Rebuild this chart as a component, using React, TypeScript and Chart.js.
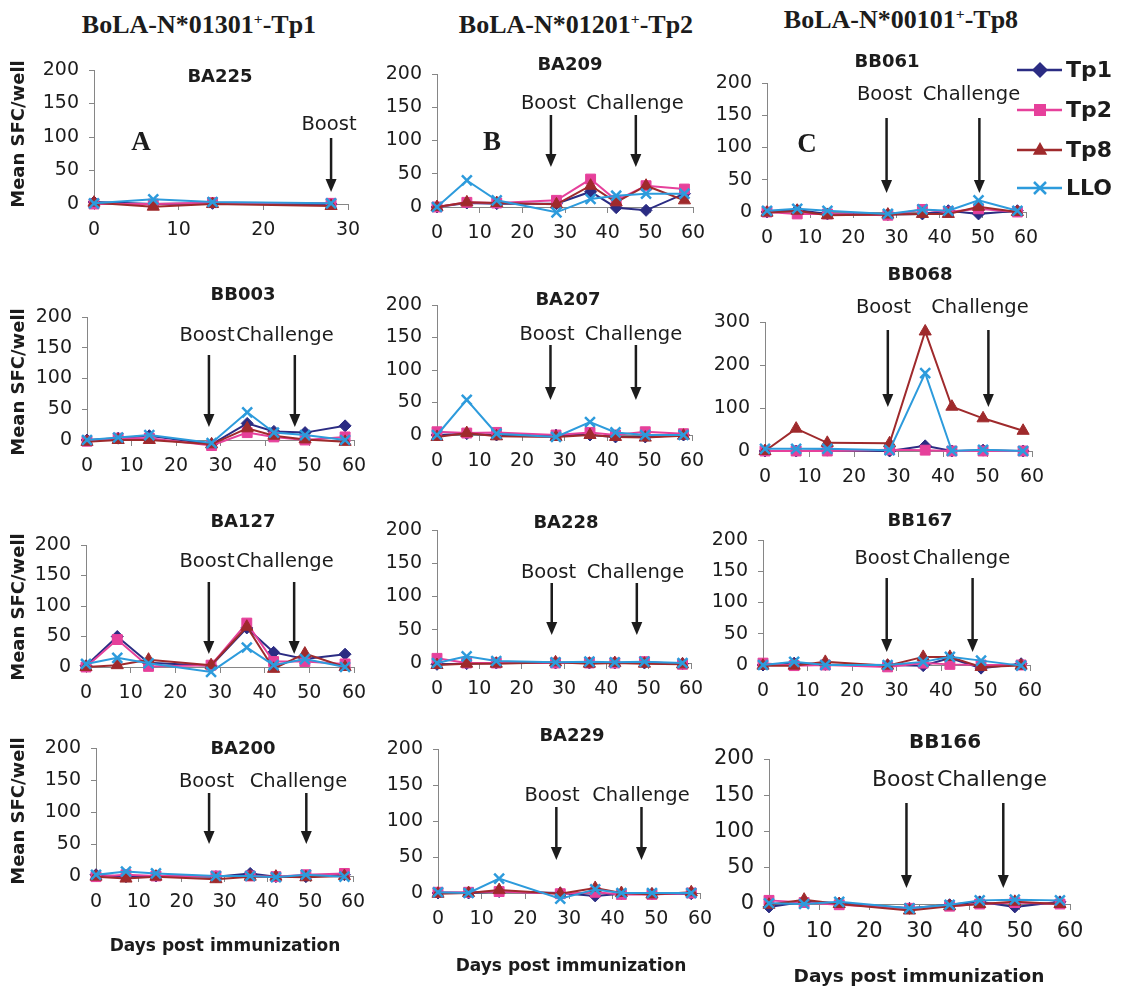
import React, { useEffect, useRef } from 'react';
import { Chart, registerables } from 'chart.js';

Chart.register(...registerables);

// ---------- DATA ----------
const DAYS = [0, 7, 14, 28, 36, 42, 49, 58];
const DAYS_BA225 = [0, 7, 14, 28];
const SERIES = ['Tp1', 'Tp2', 'Tp8', 'LLO'];

const BA225 = { Tp1: [3, 0, 1, 0], Tp2: [0, 0, 2, 1], Tp8: [2, -4, 0, -3], LLO: [1, 7, 3, 1] };
const BA209 = { Tp1: [0, 6, 5, 5, 23, -1, -5, 20], Tp2: [0, 7, 6, 10, 42, 10, 32, 27], Tp8: [0, 7, 6, 4, 32, 7, 32, 10], LLO: [0, 40, 10, -8, 12, 17, 20, 20] };
const BB061 = { Tp1: [0, 3, -3, -4, -3, 2, -3, 2], Tp2: [0, -3, -3, -5, 4, 0, 5, 0], Tp8: [-1, 2, -5, -4, -3, -3, 8, 0], LLO: [2, 5, 2, -3, 4, 2, 18, 2] };
const BB003 = { Tp1: [0, 3, 7, -7, 27, 14, 12, 23], Tp2: [-2, 3, 3, -9, 12, 5, 0, 5], Tp8: [-3, 0, 0, -7, 19, 7, 1, -3], LLO: [0, 4, 8, -5, 45, 12, 8, 0] };
const BA207 = { Tp1: [0, 2, 0, 0, 0, -3, -3, 0], Tp2: [5, 3, 4, 0, 4, 0, 5, 2], Tp8: [-3, 3, -2, -3, 0, -3, -4, -1], LLO: [0, 54, 2, -3, 20, 4, 0, 0] };
const BB068 = { Tp1: [0, 0, 2, 0, 12, 0, 2, 0], Tp2: [0, 0, 0, 3, 2, 0, 0, 0], Tp8: [0, 52, 19, 18, 278, 103, 76, 47], LLO: [5, 5, 5, 2, 181, 0, 3, 0] };
const BA127 = { Tp1: [2, 50, 7, 2, 64, 24, 13, 21], Tp2: [0, 45, 1, 3, 72, 9, 9, 5], Tp8: [0, 3, 12, 3, 66, -3, 22, 0], LLO: [5, 15, 6, -8, 32, 3, 13, 0] };
const BA228 = { Tp1: [-2, -1, 0, 0, 0, 0, 0, -1], Tp2: [7, 0, 0, 0, 0, 0, 2, -2], Tp8: [-3, -1, -1, 1, -1, 0, -1, -2], LLO: [0, 10, 3, 1, 2, 1, 2, 0] };
const BB167 = { Tp1: [0, 3, 1, 0, -1, 11, -5, 2], Tp2: [3, -1, 0, -3, 3, 1, 0, 0], Tp8: [-1, -1, 5, -1, 13, 13, -3, -1], LLO: [0, 5, 0, 0, 5, 13, 7, -1] };
const BA200 = { Tp1: [2, -1, 0, -1, 4, -1, -1, 2], Tp2: [-1, 2, 0, 0, 0, -1, 2, 4], Tp8: [-1, -4, -1, -5, -1, -1, -2, 0], LLO: [2, 7, 4, 0, 0, -2, 2, -1] };
const BA229 = { Tp1: [0, 0, 2, 0, -4, -1, -1, -1], Tp2: [1, 1, 2, -1, 1, -2, -2, 0], Tp8: [-1, 0, 4, -1, 7, 0, -2, 1], LLO: [1, 0, 20, -8, 5, 0, 0, 0] };
const BB166 = { Tp1: [-4, 3, 1, -6, -1, 3, -4, 3], Tp2: [5, 2, -1, -6, -3, 0, 2, 0], Tp8: [-1, 6, 0, -9, -3, 0, 3, 0], LLO: [1, 0, 3, -6, -1, 5, 6, 5] };

const PANEL_NAMES = ['BA225', 'BA209', 'BB061', 'BB003', 'BA207', 'BB068', 'BA127', 'BA228', 'BB167', 'BA200', 'BA229', 'BB166'];
const PANEL_DATA = [BA225, BA209, BB061, BB003, BA207, BB068, BA127, BA228, BB167, BA200, BA229, BB166];
const X_MAX = [30, 60, 60, 60, 60, 60, 60, 60, 60, 60, 60, 60];
const Y_MAX = [200, 200, 200, 200, 200, 300, 200, 200, 200, 200, 200, 200];
const BOOST_DAY = [28, 26.7, 27.7, 27.4, 26.7, 27.6, 27.5, 27.1, 27.8, 26.4, 27.1, 27.4];
const CHALLENGE_DAY = [null, 46.6, 49.2, 46.7, 46.8, 50.2, 46.6, 47.2, 47.1, 49.1, 46.6, 46.7];

const COLUMN_TITLES = [
  ['BoLA-N*01301', '-Tp1'],
  ['BoLA-N*01201', '-Tp2'],
  ['BoLA-N*00101', '-Tp8'],
];
const Y_TITLE = 'Mean SFC/well';
const X_TITLE = 'Days post immunization';

// ---------- LAYOUT / STYLE ----------
const W = 1129;
const H = 990;
const YW = 60;
const XH = 40;
const TEXT = '#1c1c1c';
const AXIS = '#868686';
const SANS = '"DejaVu Sans", sans-serif';
const SERIF = '"Liberation Serif", "Times New Roman", serif';

const STYLE: Record<string, { color: string; point: string; radius: number; bw: number }> = {
  Tp1: { color: '#2b2c83', point: 'rectRot', radius: 6, bw: 1 },
  Tp2: { color: '#e6409b', point: 'rect', radius: 7, bw: 1 },
  Tp8: { color: '#9f2a2c', point: 'triangle', radius: 7, bw: 1 },
  LLO: { color: '#2d9bdc', point: 'crossRot', radius: 7, bw: 2.5 },
};

// [left, top, right, bottom] of plot areas
const RECTS = [
  [94, 70, 348, 204], [437, 74, 693, 207], [767, 83, 1026, 212],
  [87, 317, 354, 440], [437, 305, 692, 435], [765, 322, 1032, 451],
  [86, 545, 354, 667], [437, 530, 691, 663], [763, 540, 1030, 665],
  [96, 748, 353, 876], [438, 749, 700, 893], [769, 759, 1070, 904],
];
const TITLE_POS = [
  [220, 77], [570, 65], [887, 62], [243, 295], [568, 300], [920, 275],
  [243, 522], [566, 523], [920, 521], [243, 749], [572, 736], [945, 743],
];
// [boostX, challengeX, y]
const WORD_POS = [
  [329, null, 125], [548.5, 635, 104], [884.5, 971.5, 95],
  [207, 285, 336], [547, 633.5, 335], [883.5, 980, 308],
  [207, 285, 562], [548.5, 635.5, 573], [882, 961.5, 559],
  [206.5, 298.5, 782], [552, 641, 796], [903, 992, 780],
];
const ARROW_Y = [
  [138, 192], [115, 167], [118, 193], [355, 427], [345, 400], [330, 407],
  [582, 654], [583, 635], [578, 652], [793, 844], [807, 860], [803, 888],
];
const Y_TITLE_Y: Record<number, number> = { 0: 134, 3: 382, 6: 607, 9: 811 };
const X_TITLE_POS: Record<number, number[]> = { 9: [225, 947, 17], 10: [571, 967, 17], 11: [919, 977, 18.5] };
const LETTERS: Record<number, [string, number, number]> = { 0: ['A', 141, 143], 1: ['B', 492, 143], 2: ['C', 807, 145] };
const LEGEND_Y = [70, 110, 150, 188];

function drawMarker(ctx: CanvasRenderingContext2D, style: string, x: number, y: number, r: number, color: string) {
  ctx.save();
  ctx.fillStyle = color;
  ctx.strokeStyle = color;
  ctx.beginPath();
  if (style === 'rectRot') {
    ctx.moveTo(x, y - r); ctx.lineTo(x + r, y); ctx.lineTo(x, y + r); ctx.lineTo(x - r, y); ctx.closePath(); ctx.fill();
  } else if (style === 'rect') {
    const s = r * 0.75;
    ctx.rect(x - s, y - s, 2 * s, 2 * s); ctx.fill();
  } else if (style === 'triangle') {
    ctx.moveTo(x, y - r); ctx.lineTo(x + r * 0.9, y + r * 0.6); ctx.lineTo(x - r * 0.9, y + r * 0.6); ctx.closePath(); ctx.fill();
  } else {
    const s = r * 0.75;
    ctx.lineWidth = 2.5;
    ctx.moveTo(x - s, y - s); ctx.lineTo(x + s, y + s);
    ctx.moveTo(x + s, y - s); ctx.lineTo(x - s, y + s);
    ctx.stroke();
  }
  ctx.restore();
}

function drawArrow(ctx: CanvasRenderingContext2D, x: number, y1: number, y2: number) {
  ctx.save();
  ctx.strokeStyle = TEXT;
  ctx.fillStyle = TEXT;
  ctx.lineWidth = 2.5;
  ctx.beginPath();
  ctx.moveTo(x, y1);
  ctx.lineTo(x, y2 - 10);
  ctx.stroke();
  ctx.beginPath();
  ctx.moveTo(x - 5.5, y2 - 13);
  ctx.lineTo(x + 5.5, y2 - 13);
  ctx.lineTo(x, y2);
  ctx.closePath();
  ctx.fill();
  ctx.restore();
}

function makeConfig(i: number): any {
  const [L, T, R, B] = RECTS[i];
  const big = i === 11;
  const tickFont = { family: SANS, size: big ? 21 : 19 };
  const data = PANEL_DATA[i] as Record<string, number[]>;
  const days = i === 0 ? DAYS_BA225 : DAYS;

  const datasets = SERIES.map((s, k) => ({
    label: s,
    data: days.map((d, j) => ({ x: d, y: data[s][j] })),
    borderColor: STYLE[s].color,
    backgroundColor: STYLE[s].color,
    borderWidth: 2,
    pointStyle: STYLE[s].point,
    pointRadius: STYLE[s].radius,
    pointBorderWidth: STYLE[s].bw,
    pointBackgroundColor: STYLE[s].color,
    pointBorderColor: STYLE[s].color,
    order: 4 - k,
    clip: false,
    tension: 0,
  }));

  const annot = {
    id: 'annot' + i,
    afterDraw(chart: any) {
      const ctx: CanvasRenderingContext2D = chart.ctx;
      const xs = chart.scales.x;
      ctx.save();
      ctx.fillStyle = TEXT;
      ctx.textAlign = 'center';
      ctx.textBaseline = 'middle';
      // panel title
      ctx.font = `bold ${big ? 20 : 18}px ${SANS}`;
      ctx.fillText(PANEL_NAMES[i], TITLE_POS[i][0], TITLE_POS[i][1]);
      // Boost / Challenge
      const [bx, cx, wy] = WORD_POS[i];
      ctx.font = `${big ? 22 : 19.5}px ${SANS}`;
      ctx.fillText('Boost', bx as number, wy as number);
      if (cx !== null) ctx.fillText('Challenge', cx as number, wy as number);
      const [a1, a2] = ARROW_Y[i];
      drawArrow(ctx, xs.getPixelForValue(BOOST_DAY[i]), a1, a2);
      if (CHALLENGE_DAY[i] !== null) drawArrow(ctx, xs.getPixelForValue(CHALLENGE_DAY[i] as number), a1, a2);
      // y title
      if (Y_TITLE_Y[i] !== undefined) {
        ctx.save();
        ctx.translate(19, Y_TITLE_Y[i]);
        ctx.rotate(-Math.PI / 2);
        ctx.font = `bold 18px ${SANS}`;
        ctx.fillText(Y_TITLE, 0, 0);
        ctx.restore();
      }
      // x title
      if (X_TITLE_POS[i]) {
        const [tx, ty, ts] = X_TITLE_POS[i];
        ctx.font = `bold ${ts}px ${SANS}`;
        ctx.fillText(X_TITLE, tx, ty);
      }
      // letter
      if (LETTERS[i]) {
        const [ch, lx, ly] = LETTERS[i];
        ctx.font = `bold 27px ${SERIF}`;
        ctx.fillText(ch, lx, ly);
      }
      // legend
      if (i === 2) {
        SERIES.forEach((s, k) => {
          const y = LEGEND_Y[k];
          ctx.save();
          ctx.strokeStyle = STYLE[s].color;
          ctx.lineWidth = 2.5;
          ctx.beginPath();
          ctx.moveTo(1017, y);
          ctx.lineTo(1062, y);
          ctx.stroke();
          ctx.restore();
          drawMarker(ctx, STYLE[s].point, 1040, y, 8, STYLE[s].color);
          ctx.textAlign = 'left';
          ctx.font = `bold 22px ${SANS}`;
          ctx.fillText(s, 1066, y + 1);
        });
      }
      ctx.restore();
    },
  };

  return {
    type: 'line',
    data: { datasets },
    options: {
      animation: false,
      responsive: false,
      maintainAspectRatio: false,
      devicePixelRatio: 1,
      layout: { padding: { left: L - YW, top: T, right: W - R, bottom: H - B - XH } },
      plugins: { legend: { display: false }, tooltip: { enabled: false }, title: { display: false } },
      scales: {
        x: {
          type: 'linear',
          min: 0,
          max: X_MAX[i],
          ticks: { stepSize: 10, font: tickFont, color: TEXT, padding: 9, maxRotation: 0 },
          grid: { display: true, drawOnChartArea: false, drawTicks: true, tickLength: 6, color: AXIS, lineWidth: 1 },
          border: { display: true, color: AXIS, width: 1 },
          afterFit: (s: any) => { s.height = XH; },
        },
        y: {
          type: 'linear',
          min: 0,
          max: Y_MAX[i],
          ticks: { stepSize: Y_MAX[i] === 300 ? 100 : 50, font: tickFont, color: TEXT, padding: 10 },
          grid: { display: true, drawOnChartArea: false, drawTicks: true, tickLength: 5, color: AXIS, lineWidth: 1 },
          border: { display: true, color: AXIS, width: 1 },
          afterFit: (s: any) => { s.width = YW; },
        },
      },
    },
    plugins: [annot],
  };
}

function Panel({ index }: { index: number }) {
  const ref = useRef<HTMLCanvasElement>(null);
  useEffect(() => {
    const chart = new Chart(ref.current as HTMLCanvasElement, makeConfig(index));
    return () => chart.destroy();
  }, [index]);
  return (
    <canvas
      ref={ref}
      width={W}
      height={H}
      style={{ position: 'absolute', left: 0, top: 0, width: W, height: H }}
    />
  );
}

const TITLE_CENTERS = [[199, 25], [576, 25], [901, 20]];

export default function App() {
  return (
    <div style={{ position: 'absolute', left: 0, top: 0, width: W, height: H, background: '#fff', overflow: 'hidden' }}>
      {COLUMN_TITLES.map((t, k) => (
        <div
          key={k}
          style={{
            position: 'absolute',
            left: TITLE_CENTERS[k][0],
            top: TITLE_CENTERS[k][1],
            transform: 'translate(-50%, -50%)',
            whiteSpace: 'nowrap',
            fontFamily: SERIF,
            fontWeight: 'bold',
            fontSize: 26,
            color: TEXT,
            lineHeight: '30px',
          }}
        >
          {t[0]}
          <sup style={{ fontSize: '0.6em', verticalAlign: '0.6em', lineHeight: 0 }}>+</sup>
          {t[1]}
        </div>
      ))}
      {PANEL_NAMES.map((_, i) => (
        <Panel key={i} index={i} />
      ))}
    </div>
  );
}
